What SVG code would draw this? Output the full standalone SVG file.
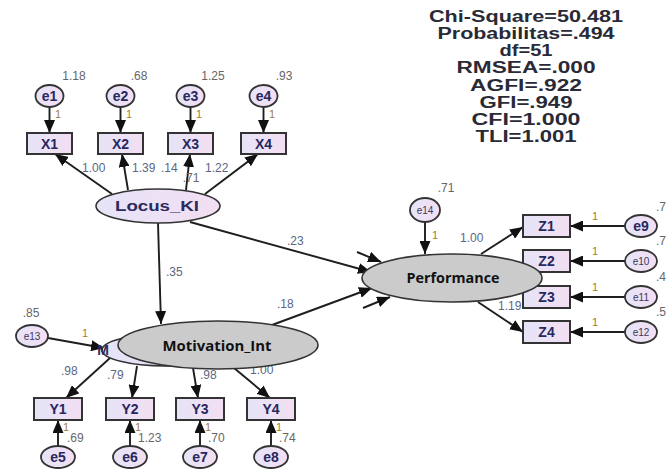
<svg xmlns="http://www.w3.org/2000/svg" width="666" height="473" viewBox="0 0 666 473">
<defs>
<linearGradient id="lav" x1="0" y1="0" x2="1" y2="0"><stop offset="0" stop-color="#e6e4f8"/><stop offset="1" stop-color="#f3def2"/></linearGradient>
<marker id="ah" markerWidth="13" markerHeight="11" refX="13" refY="5.5" orient="auto" markerUnits="userSpaceOnUse"><path d="M0,0 L13,5.5 L0,11 z" fill="#111"/></marker>
</defs>
<style>
.ln{stroke:#1e1e1e;stroke-width:1.9;fill:none;marker-end:url(#ah)}
.box{fill:url(#lav);stroke:#333;stroke-width:2}
.err{fill:url(#lav);stroke:#333;stroke-width:1.8}
.lat{fill:url(#lav);stroke:#333;stroke-width:1.6}
.gry{fill:#cbcbcb;stroke:#333;stroke-width:1.6}
.nt{font-family:"Liberation Sans",Arial,sans-serif;font-weight:bold;font-size:14px;fill:#26285e;text-anchor:middle}
.st{font-family:"Liberation Sans",Arial,sans-serif;font-size:10px;fill:#3a3a5e;text-anchor:middle}
.lt{font-family:"Liberation Sans",Arial,sans-serif;font-weight:bold;font-size:14px;fill:#2b2b5e;text-anchor:middle}
.ct{font-family:"Open Sans","Noto Sans",sans-serif;font-weight:700;font-size:15px;fill:#111;text-anchor:middle}
.var{font-family:"Liberation Sans",Arial,sans-serif;font-size:12px;fill:#666}
.cf{font-family:"Liberation Sans",Arial,sans-serif;font-size:12px;fill:#5b6684}
.one{font-family:"Liberation Sans",Arial,sans-serif;font-size:11px;fill:#a0802c}
.stat{font-family:"Liberation Sans",Arial,sans-serif;font-weight:bold;font-size:16px;fill:#2a2a36;text-anchor:middle}
</style>
<rect width="666" height="473" fill="#fff"/>

<g id="fit-statistics">
<text class="stat" x="526" y="22" textLength="194" lengthAdjust="spacingAndGlyphs">Chi-Square=50.481</text>
<text class="stat" x="526" y="39" textLength="177" lengthAdjust="spacingAndGlyphs">Probabilitas=.494</text>
<text class="stat" x="526" y="56" textLength="53" lengthAdjust="spacingAndGlyphs">df=51</text>
<text class="stat" x="526" y="73" textLength="139" lengthAdjust="spacingAndGlyphs">RMSEA=.000</text>
<text class="stat" x="526" y="90.5" textLength="112" lengthAdjust="spacingAndGlyphs">AGFI=.922</text>
<text class="stat" x="526" y="107.5" textLength="93" lengthAdjust="spacingAndGlyphs">GFI=.949</text>
<text class="stat" x="526" y="125" textLength="109" lengthAdjust="spacingAndGlyphs">CFI=1.000</text>
<text class="stat" x="526" y="142" textLength="101" lengthAdjust="spacingAndGlyphs">TLI=1.001</text>
</g>

<g id="connectors">
<line class="ln" x1="49.5" y1="107" x2="49.5" y2="133"/>
<line class="ln" x1="120.5" y1="107" x2="120.5" y2="133"/>
<line class="ln" x1="190.5" y1="107" x2="190.5" y2="133"/>
<line class="ln" x1="263.5" y1="107" x2="263.5" y2="133"/>
<line class="ln" x1="112" y1="194" x2="55" y2="154"/>
<line class="ln" x1="128" y1="190" x2="122" y2="154"/>
<line class="ln" x1="186" y1="190" x2="190" y2="154"/>
<line class="ln" x1="205" y1="194" x2="258" y2="154"/>
<line class="ln" x1="190" y1="222" x2="371" y2="272"/>
<line class="ln" x1="158" y1="223" x2="161" y2="324"/>
<line class="ln" x1="272" y1="325" x2="372" y2="288"/>
<line class="ln" x1="357" y1="252" x2="381" y2="262"/>
<line class="ln" x1="363" y1="308" x2="390" y2="297"/>
<line class="ln" x1="425" y1="222" x2="425" y2="254"/>
<line class="ln" x1="481" y1="254" x2="523" y2="227"/>
<line class="ln" x1="478" y1="302" x2="523" y2="332"/>
<line class="ln" x1="625" y1="226" x2="570" y2="226"/>
<line class="ln" x1="625" y1="261" x2="570" y2="261"/>
<line class="ln" x1="625" y1="297" x2="570" y2="297"/>
<line class="ln" x1="625" y1="332" x2="570" y2="332"/>
<line class="ln" x1="48" y1="338" x2="104" y2="348"/>
<line class="ln" x1="110" y1="358" x2="66" y2="398"/>
<line class="ln" x1="137" y1="366" x2="132" y2="398"/>
<line class="ln" x1="193" y1="368" x2="198" y2="398"/>
<line class="ln" x1="234" y1="368" x2="270" y2="398"/>
<line class="ln" x1="58" y1="446" x2="58" y2="420"/>
<line class="ln" x1="130" y1="446" x2="130" y2="420"/>
<line class="ln" x1="200" y1="446" x2="200" y2="420"/>
<line class="ln" x1="271" y1="446" x2="271" y2="420"/>

<text class="one" x="55" y="118">1</text>
<text class="one" x="126" y="118">1</text>
<text class="one" x="196" y="118">1</text>
<text class="one" x="269" y="118">1</text>
<text class="cf" x="82" y="172">1.00</text>
<text class="cf" x="132" y="172">1.39</text>
<text class="cf" x="161" y="172">.14</text>
<text class="cf" x="205" y="172">1.22</text>
<text class="cf" x="287" y="245">.23</text>
<text class="cf" x="166" y="276">.35</text>
<text class="cf" x="277" y="308">.18</text>
<text class="one" x="432" y="239">1</text>
<text class="cf" x="460" y="242">1.00</text>
<text class="cf" x="498" y="310">1.19</text>
<text class="one" x="592" y="220">1</text>
<text class="one" x="592" y="255">1</text>
<text class="one" x="592" y="291">1</text>
<text class="one" x="592" y="326">1</text>
<text class="one" x="82" y="337">1</text>
<text class="cf" x="61" y="375">.98</text>
<text class="cf" x="107" y="379">.79</text>
<text class="cf" x="200" y="379">.98</text>
<text class="cf" x="250" y="374">1.00</text>
<text class="one" x="63" y="431">1</text>
<text class="one" x="135" y="431">1</text>
<text class="one" x="205" y="431">1</text>
<text class="one" x="276" y="431">1</text>
</g>

<g id="e1"><ellipse class="err" cx="49.5" cy="96" rx="14" ry="11"/><text class="nt" x="49.5" y="101">e1</text><text class="var" x="74" y="80" text-anchor="middle">1.18</text></g>
<g id="e2"><ellipse class="err" cx="120.5" cy="96" rx="14" ry="11"/><text class="nt" x="120.5" y="101">e2</text><text class="var" x="139" y="80" text-anchor="middle">.68</text></g>
<g id="e3"><ellipse class="err" cx="190.5" cy="96" rx="14" ry="11"/><text class="nt" x="190.5" y="101">e3</text><text class="var" x="213" y="80" text-anchor="middle">1.25</text></g>
<g id="e4"><ellipse class="err" cx="263.5" cy="96" rx="14" ry="11"/><text class="nt" x="263.5" y="101">e4</text><text class="var" x="284" y="80" text-anchor="middle">.93</text></g>

<g id="X1"><rect class="box" x="27" y="133" width="45" height="21"/><text class="nt" x="49.5" y="149">X1</text></g>
<g id="X2"><rect class="box" x="98" y="133" width="45" height="21"/><text class="nt" x="120.5" y="149">X2</text></g>
<g id="X3"><rect class="box" x="168" y="133" width="45" height="21"/><text class="nt" x="190.5" y="149">X3</text></g>
<g id="X4"><rect class="box" x="241" y="133" width="45" height="21"/><text class="nt" x="263.5" y="149">X4</text></g>

<g id="Locus_KI"><ellipse class="lat" cx="158" cy="206" rx="62" ry="17"/><text class="lt" x="157" y="211" textLength="84" lengthAdjust="spacingAndGlyphs">Locus_KI</text><text class="var" x="191" y="182" text-anchor="middle">.71</text></g>

<g id="e14"><ellipse class="err" cx="425" cy="210" rx="15" ry="12"/><text class="st" x="425" y="214">e14</text><text class="var" x="446" y="192" text-anchor="middle">.71</text></g>

<g id="Z1"><rect class="box" x="523" y="215" width="47" height="22"/><text class="nt" x="546.5" y="231">Z1</text></g>
<g id="Z2"><rect class="box" x="523" y="250" width="47" height="22"/><text class="nt" x="546.5" y="266">Z2</text></g>
<g id="Z3"><rect class="box" x="523" y="286" width="47" height="22"/><text class="nt" x="546.5" y="302">Z3</text></g>
<g id="Z4"><rect class="box" x="523" y="321" width="47" height="22"/><text class="nt" x="546.5" y="337">Z4</text></g>

<g id="e9"><ellipse class="err" cx="641" cy="226" rx="16" ry="11"/><text class="nt" x="641" y="231">e9</text><text class="var" x="656" y="211">.7</text></g>
<g id="e10"><ellipse class="err" cx="641" cy="261" rx="16" ry="11"/><text class="st" x="641" y="265">e10</text><text class="var" x="656" y="245">.7</text></g>
<g id="e11"><ellipse class="err" cx="641" cy="297" rx="16" ry="11"/><text class="st" x="641" y="301">e11</text><text class="var" x="656" y="281">.4</text></g>
<g id="e12"><ellipse class="err" cx="641" cy="332" rx="16" ry="11"/><text class="st" x="641" y="336">e12</text><text class="var" x="656" y="316">.5</text></g>

<g id="Performance"><ellipse class="gry" cx="452" cy="278" rx="90" ry="24"/><text class="ct" x="453" y="283" textLength="93" lengthAdjust="spacingAndGlyphs">Performance</text></g>

<g id="e13"><ellipse class="err" cx="32" cy="336" rx="16" ry="11"/><text class="st" x="32" y="340">e13</text><text class="var" x="31" y="317" text-anchor="middle">.85</text></g>

<g id="Motivation_Int">
<ellipse class="lat" cx="165" cy="350" rx="63" ry="16"/>
<text class="lt" x="103" y="355" text-anchor="start">M</text>
<ellipse class="gry" cx="218" cy="345" rx="100" ry="24"/>
<text class="ct" x="217" y="351" textLength="109" lengthAdjust="spacingAndGlyphs">Motivation_Int</text>
</g>

<g id="Y1"><rect class="box" x="34" y="398" width="48" height="22"/><text class="nt" x="58" y="414">Y1</text></g>
<g id="Y2"><rect class="box" x="106" y="398" width="48" height="22"/><text class="nt" x="130" y="414">Y2</text></g>
<g id="Y3"><rect class="box" x="176" y="398" width="48" height="22"/><text class="nt" x="200" y="414">Y3</text></g>
<g id="Y4"><rect class="box" x="247" y="398" width="48" height="22"/><text class="nt" x="271" y="414">Y4</text></g>

<g id="e5"><ellipse class="err" cx="58" cy="457" rx="17" ry="11"/><text class="nt" x="58" y="462">e5</text><text class="var" x="67" y="442">.69</text></g>
<g id="e6"><ellipse class="err" cx="130" cy="457" rx="17" ry="11"/><text class="nt" x="130" y="462">e6</text><text class="var" x="138" y="442">1.23</text></g>
<g id="e7"><ellipse class="err" cx="200" cy="457" rx="17" ry="11"/><text class="nt" x="200" y="462">e7</text><text class="var" x="208" y="442">.70</text></g>
<g id="e8"><ellipse class="err" cx="271" cy="457" rx="17" ry="11"/><text class="nt" x="271" y="462">e8</text><text class="var" x="279" y="442">.74</text></g>
</svg>
